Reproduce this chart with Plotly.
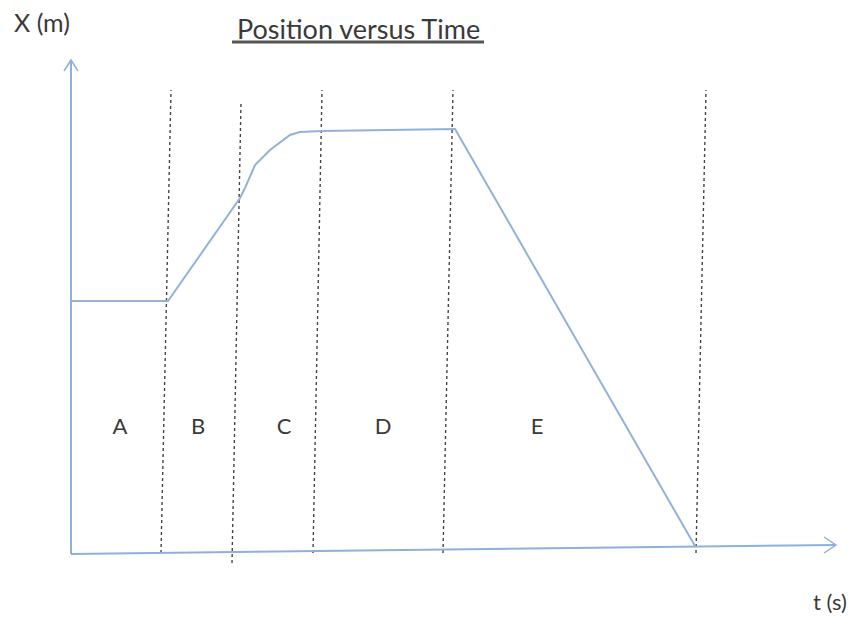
import plotly.graph_objects as go

# Position-time curve
t_curve = [0, 9.7, 16.9, 17.4, 18.4, 19.9, 21.9, 22.9, 25.1, 38.4, 62.4]
x_curve = [25.3, 25.3, 35.6, 36.6, 38.9, 40.4, 41.9, 42.2, 42.3, 42.5, 0.8]

# Dotted dividers (slightly tilted, hand-drawn)
div_top_t = [10.0, 17.0, 25.1, 38.2, 63.5]
div_top_x = [46.4, 45.2, 46.4, 46.4, 46.4]
div_bot_t = [9.0, 16.1, 24.2, 37.2, 62.5]
div_bot_x = [0.1, -0.9, 0.1, 0.1, 0.1]

# Region labels
region_labels = ["A", "B", "C", "D", "E"]
region_t = [4.9, 12.7, 21.3, 31.2, 46.6]
region_x = [12.6, 12.6, 12.6, 12.6, 12.6]

# Axes (start, end)
xaxis_t = [0.0, 76.5]
xaxis_x = [0.0, 0.9]
yaxis_t = [0.0, 0.0]
yaxis_x = [0.0, 49.4]

axis_color = "#8eb0da"
curve_color = "#94b1d8"
text_color = "#3a3a3a"
font = "Lato, Open Sans, sans-serif"

fig = go.Figure()

for i in range(len(div_top_t)):
    fig.add_trace(go.Scatter(
        x=[div_bot_t[i], div_top_t[i]], y=[div_bot_x[i], div_top_x[i]],
        mode="lines", line=dict(color="#444444", width=1.4, dash="dot"),
        hoverinfo="skip", showlegend=False))

# axes lines
fig.add_trace(go.Scatter(x=xaxis_t, y=xaxis_x, mode="lines",
                         line=dict(color=axis_color, width=2), showlegend=False))
fig.add_trace(go.Scatter(x=yaxis_t, y=yaxis_x, mode="lines",
                         line=dict(color=axis_color, width=2), showlegend=False))
# open chevron arrowheads
hx, hy = xaxis_t[1], xaxis_x[1]
fig.add_trace(go.Scatter(x=[hx - 1.2, hx, hx - 1.2], y=[hy + 0.8, hy, hy - 0.8],
                         mode="lines", line=dict(color=axis_color, width=1.5),
                         showlegend=False))
vx, vy = yaxis_t[1], yaxis_x[1]
fig.add_trace(go.Scatter(x=[vx - 0.7, vx, vx + 0.7], y=[vy - 1.1, vy, vy - 1.1],
                         mode="lines", line=dict(color=axis_color, width=1.5),
                         showlegend=False))

fig.add_trace(go.Scatter(x=t_curve, y=x_curve, mode="lines",
                         line=dict(color=curve_color, width=2), showlegend=False))

fig.add_trace(go.Scatter(x=region_t, y=region_x, mode="text", text=region_labels,
                         textfont=dict(family=font, size=22, color=text_color),
                         showlegend=False))

fig.add_annotation(x=-2.9, y=53.2, text="X (m)", showarrow=False,
                   font=dict(family=font, size=25, color=text_color))
fig.add_annotation(x=28.7, y=52.6, text="Position versus Time", showarrow=False,
                   font=dict(family=font, size=27, color=text_color))
fig.add_shape(type="line", x0=16.1, x1=41.3, y0=51.2, y1=51.2,
              line=dict(color="#555555", width=3))
fig.add_annotation(x=75.9, y=-4.7, text="t (s)", showarrow=False,
                   font=dict(family=font, size=22, color=text_color))

fig.update_layout(
    width=855, height=617,
    margin=dict(l=0, r=0, t=0, b=0),
    paper_bgcolor="white", plot_bgcolor="white",
    xaxis=dict(range=[-7.1, 78.4], visible=False, fixedrange=True),
    yaxis=dict(range=[-6.3, 55.4], visible=False, fixedrange=True),
)

fig.write_html("out.html", config={"displayModeBar": False},
               post_script="document.body.style.margin='0';document.body.style.overflow='hidden';")
